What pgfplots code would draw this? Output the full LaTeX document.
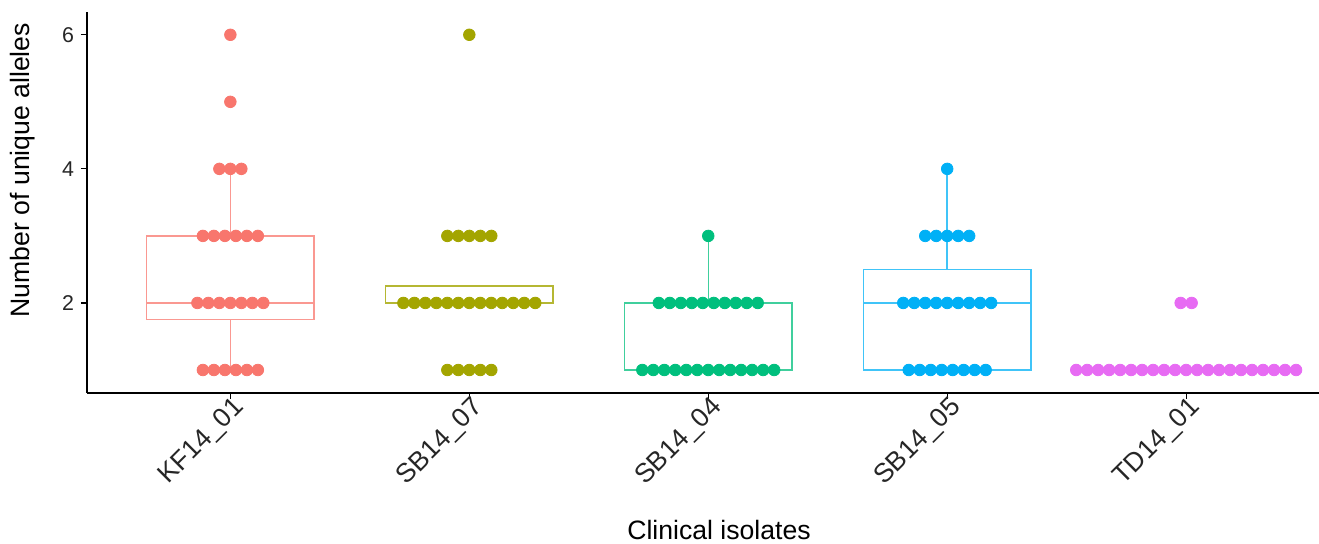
\documentclass[border=0pt]{standalone}
\usepackage{pgfplots}
\pgfplotsset{compat=1.18}
\usepgfplotslibrary{statistics}
\usetikzlibrary{calc}
\usepackage{fontspec}
\setmainfont{Liberation Sans}
\definecolor{cA}{HTML}{F8766D}
\definecolor{cB}{HTML}{A3A500}
\definecolor{cC}{HTML}{00BF7D}
\definecolor{cD}{HTML}{00B0F6}
\definecolor{cE}{HTML}{E76BF3}
\begin{document}
\begin{tikzpicture}
\begin{axis}[
  name=ax,
  scale only axis,
  width=616pt, height=190.5pt,
  xmin=-0.6, xmax=4.556,
  ymin=0.657, ymax=6.34,
  axis x line=bottom, axis y line=left,
  axis line style={-, line width=0.8pt, black},
  tick align=outside,
  major tick length=3pt,
  tick style={line width=0.6pt, black},
  xtick={0,1,2,3,4},
  xticklabels={KF14\_01,SB14\_07,SB14\_04,SB14\_05,TD14\_01},
  ytick={2,4,6},
  /pgf/number format/assume math mode=true,
  yticklabel style={font=\fontsize{10.7}{12}\selectfont, text=black!85},
  xticklabel style={font=\fontsize{13.3}{15}\selectfont, text=black!85, rotate=45, anchor=north east, inner sep=1pt, xshift=3pt, yshift=2pt},
  xlabel={Clinical isolates},
  ylabel={Number of unique alleles},
  label style={font=\fontsize{13.3}{15}\selectfont},
  xlabel style={at={(axis description cs:0.513,0)}, anchor=center, yshift=-68.5pt, inner sep=1pt},
  ylabel style={at={(axis description cs:-0.052,0.585)}, anchor=center},
  boxplot/draw direction=y,
  clip=false,
]
% boxes
\addplot[draw=cA!75!white, line width=0.75pt, boxplot prepared={draw position=0, lower whisker=1, lower quartile=1.75, median=2, upper quartile=3, upper whisker=4, box extend=0.7, whisker extend=0}] coordinates {};
\addplot[draw=cB!80!white, line width=0.75pt, boxplot prepared={draw position=1, lower whisker=2, lower quartile=2, median=2, upper quartile=2.25, upper whisker=2.25, box extend=0.7, whisker extend=0}] coordinates {};
\addplot[draw=cC!75!white, line width=0.75pt, boxplot prepared={draw position=2, lower whisker=1, lower quartile=1, median=1, upper quartile=2, upper whisker=3, box extend=0.7, whisker extend=0}] coordinates {};
\addplot[draw=cD!75!white, line width=0.75pt, boxplot prepared={draw position=3, lower whisker=1, lower quartile=1, median=2, upper quartile=2.5, upper whisker=4, box extend=0.7, whisker extend=0}] coordinates {};
\addplot[draw=cE!75!white, line width=0.75pt, boxplot prepared={draw position=4, lower whisker=1, lower quartile=1, median=1, upper quartile=1, upper whisker=1, box extend=0.7, whisker extend=0}] coordinates {};
% dots
\addplot[only marks, mark=*, mark size=2.9pt, mark options={draw=cA, fill=cA}] coordinates {
(0,6) (0,5) (-0.046,4) (0,4) (0.046,4)
(-0.115,3) (-0.069,3) (-0.023,3) (0.023,3) (0.069,3) (0.115,3)
(-0.138,2) (-0.092,2) (-0.046,2) (0,2) (0.046,2) (0.092,2) (0.138,2)
(-0.115,1) (-0.069,1) (-0.023,1) (0.023,1) (0.069,1) (0.115,1)
};
\addplot[only marks, mark=*, mark size=2.9pt, mark options={draw=cB, fill=cB}] coordinates {
(1,6)
(0.908,3) (0.954,3) (1,3) (1.046,3) (1.092,3)
(0.724,2) (0.770,2) (0.816,2) (0.862,2) (0.908,2) (0.954,2) (1,2) (1.046,2) (1.092,2) (1.138,2) (1.184,2) (1.230,2) (1.276,2)
(0.908,1) (0.954,1) (1,1) (1.046,1) (1.092,1)
};
\addplot[only marks, mark=*, mark size=2.9pt, mark options={draw=cC, fill=cC}] coordinates {
(2,3)
(1.793,2) (1.839,2) (1.885,2) (1.931,2) (1.977,2) (2.023,2) (2.069,2) (2.115,2) (2.161,2) (2.207,2)
(1.724,1) (1.770,1) (1.816,1) (1.862,1) (1.908,1) (1.954,1) (2,1) (2.046,1) (2.092,1) (2.138,1) (2.184,1) (2.230,1) (2.276,1)
};
\addplot[only marks, mark=*, mark size=2.9pt, mark options={draw=cD, fill=cD}] coordinates {
(3,4)
(2.908,3) (2.954,3) (3,3) (3.046,3) (3.092,3)
(2.816,2) (2.862,2) (2.908,2) (2.954,2) (3,2) (3.046,2) (3.092,2) (3.138,2) (3.184,2)
(2.839,1) (2.885,1) (2.931,1) (2.977,1) (3.023,1) (3.069,1) (3.115,1) (3.161,1)
};
\addplot[only marks, mark=*, mark size=2.9pt, mark options={draw=cE, fill=cE}] coordinates {
(3.977,2) (4.023,2)
(3.540,1) (3.586,1) (3.632,1) (3.678,1) (3.724,1) (3.770,1) (3.816,1) (3.862,1) (3.908,1) (3.954,1) (4,1) (4.046,1) (4.092,1) (4.138,1) (4.184,1) (4.230,1) (4.276,1) (4.322,1) (4.368,1) (4.414,1) (4.460,1)
};
\end{axis}
\pgfresetboundingbox
\path (ax.south west) ++(-43.5pt,-75.5pt) rectangle ($(ax.north east)+(0pt,6pt)$);
\end{tikzpicture}
\end{document}
